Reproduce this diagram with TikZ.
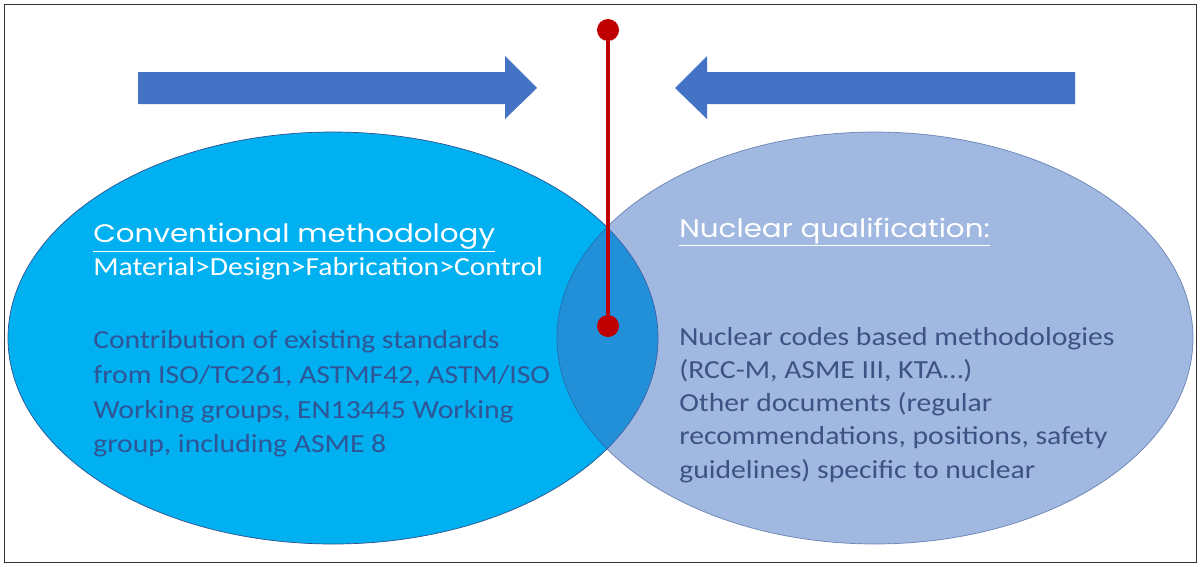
\documentclass[tikz,border=0pt]{standalone}
\usepackage{fontspec}
\setmainfont{Carlito}
\newfontfamily\gothic[FakeStretch=1.16]{Poppins}
\newfontfamily\wide[FakeStretch=1.14]{Carlito}
\usepackage{tikz}
\definecolor{cyanfill}{HTML}{00B0F0}
\definecolor{arrowblue}{HTML}{4472C4}
\definecolor{edgeblue}{HTML}{2F528F}
\definecolor{textblue}{HTML}{2F5597}
\definecolor{slateblue}{HTML}{3D5383}
\definecolor{pinred}{HTML}{C00000}
\tikzset{
  pin/.style={circle, fill=pinred, inner sep=0pt, minimum size=5.5mm},
  body/.style={anchor=north west, align=left, inner sep=0pt},
  title/.style={anchor=base west, inner sep=0pt, text=white, font=\gothic\fontsize{18}{22}\selectfont},
}

\begin{document}
\begin{tikzpicture}[x=0.025cm, y=-0.025cm]
\useasboundingbox (0,0) rectangle (1200,566);
\fill[white] (0,0) rectangle (1200,566);
\draw[black!80, line width=0.6pt] (4,4) rectangle (1196,562);
% circles
\fill[cyanfill, draw=edgeblue, line width=0.5pt] (333,338) ellipse [x radius=325, y radius=206];
\fill[arrowblue, fill opacity=0.5, draw=edgeblue, draw opacity=0.6, line width=0.5pt] (875,338) ellipse [x radius=318, y radius=206];
% arrows
\fill[arrowblue] (138,72) -- (505,72) -- (505,56) -- (537,88) -- (505,119) -- (505,104) -- (138,104) -- cycle;
\fill[arrowblue] (1075,72) -- (707,72) -- (707,56) -- (675,88) -- (707,119) -- (707,104) -- (1075,104) -- cycle;
% pin
\node[pin] (top) at (608,30) {};
\node[pin] (mid) at (608,326) {};
\draw[pinred, line width=2.8pt] (top) -- (mid);
% left text
\node[title] (convtitle) at (93,242) {\underline{Conventional methodology}};
\node[anchor=base west, inner sep=0pt, text=white, font=\wide\fontsize{18.5}{24.8}\selectfont] (chain) at (93,275) {Material>Design>Fabrication>Control};
\node[body, text=textblue, font=\wide\fontsize{18.5}{24.8}\selectfont] (convbody) at (93,330) {Contribution of existing standards\\from ISO/TC261, ASTMF42, ASTM/ISO\\Working groups, EN13445 Working\\group, including ASME 8};
% right text
\node[title] (nuctitle) at (679,237) {\underline{Nuclear qualification:}};
\node[body, text=slateblue, font=\wide\fontsize{18.5}{23.6}\selectfont] (nucbody) at (679,327) {Nuclear codes based methodologies\\(RCC-M, ASME III, KTA\dots)\\Other documents (regular\\recommendations, positions, safety\\guidelines) specific to nuclear};
\end{tikzpicture}
\end{document}
